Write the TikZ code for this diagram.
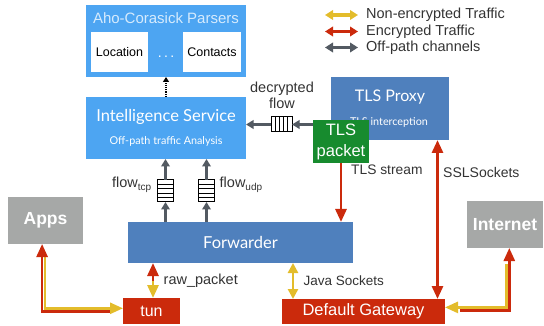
\documentclass[tikz,border=0pt]{standalone}
\usepackage{fontspec}
\setmainfont{Liberation Sans}
\newfontfamily\humanist{Lato}
\usetikzlibrary{arrows.meta,calc}

\definecolor{skyblue}{HTML}{4DA5F2}
\definecolor{steelblue}{HTML}{4F80BD}
\definecolor{encred}{HTML}{CB2A0C}
\definecolor{plainyel}{HTML}{E3BC2B}
\definecolor{offgrey}{HTML}{535A62}
\definecolor{boxgrey}{HTML}{A6A8A7}
\definecolor{pktgreen}{HTML}{178B2E}
\definecolor{labelgrey}{HTML}{333333}
\definecolor{titletint}{HTML}{D6EBFD}

\newcommand{\fs}[1]{\fontsize{#1}{#1}\selectfont}
\newcommand{\fsb}[2]{\fontsize{#1}{#2}\selectfont}

\tikzset{
  blk/.style={inner sep=0pt, outer sep=0pt, draw=none, align=center},
  queue/.style={blk, draw=black, line width=1pt, fill=white},
  lbl/.style={inner sep=0pt, text=labelgrey, font=\fs{14.5}},
  offpath/.style={draw=offgrey, line width=2.6pt,
    -{Triangle[length=7.5pt,width=8.5pt]}},
  encarrow/.style={draw=encred, line width=2.8pt,
    -{Triangle[length=13pt,width=11pt]}},
  encboth/.style={draw=encred, line width=2.8pt,
    {Triangle[length=13pt,width=11pt]}-{Triangle[length=13pt,width=11pt]}},
  plainarrow/.style={draw=plainyel, line width=2.8pt,
    -{Triangle[length=13pt,width=11pt]}},
  plainboth/.style={draw=plainyel, line width=2.8pt,
    {Triangle[length=10pt,width=10pt]}-{Triangle[length=10pt,width=10pt]}},
  legarrow/.style={line width=3.2pt,
    {Triangle[length=8pt,width=9.5pt]}-{Triangle[length=8pt,width=9.5pt]}},
}

\begin{document}
\begin{tikzpicture}[x=1pt, y=-1pt]
\useasboundingbox (0,0) rectangle (544,326);

% ---- parsers block ----
\node[blk, fill=skyblue, minimum width=160pt, minimum height=72pt] (aho) at (166,41) {};
\node[blk, text=titletint, font=\fs{15}] (ahotitle) at (166,18) {Aho-Corasick Parsers};
\node[blk, fill=white, minimum width=57pt, minimum height=40pt, font=\fs{12.5}] (loc) at (119.5,52) {Location};
\node[blk, fill=white, minimum width=58pt, minimum height=40pt, font=\fs{12.5}] (con) at (212,52) {Contacts};
\node[blk, text=white, font=\fs{14}] (dots) at (166,57) {.\,.\,.};

% ---- intelligence service ----
\node[blk, fill=skyblue, minimum width=160pt, minimum height=62pt] (intel) at (166,128) {};
\node[blk, text=white, font=\humanist\fs{16.5}] (inteltitle) at (166,117) {Intelligence Service};
\node[blk, text=white, font=\humanist\fs{10.8}] (intelsub) at (166,141) {Off-path traffic Analysis};

% ---- TLS proxy ----
\node[blk, fill=steelblue, minimum width=118pt, minimum height=63pt] (proxy) at (390,108.5) {};
\node[blk, text=white, font=\humanist\fs{16}] (proxytitle) at (390,97.5) {TLS Proxy};
\node[blk, text=white, font=\humanist\fs{10.8}] (proxysub) at (389,122) {TLS interception};

% ---- TLS packet ----
\node[blk, fill=pktgreen, text=white, minimum width=56pt, minimum height=43pt,
      font=\fsb{16.5}{21}] (pkt) at (341,141.5) {TLS\\packet};

% ---- forwarder ----
\node[blk, fill=steelblue, text=white, minimum width=225pt, minimum height=41pt,
      font=\humanist\fs{16.5}] (fwd) at (240.5,242.5) {Forwarder};

% ---- end points ----
\node[blk, fill=boxgrey, text=white, minimum width=75pt, minimum height=47pt,
      font=\bfseries\fs{17.5}] (apps) at (45.5,220.5) {Apps};
\node[blk, fill=boxgrey, text=white, minimum width=76pt, minimum height=47pt,
      font=\bfseries\fs{17.5}] (inet) at (505,224.5) {Internet};
\node[blk, fill=encred, text=white, minimum width=57pt, minimum height=26pt,
      font=\fs{16}] (tun) at (151.5,311) {tun};
\node[blk, fill=encred, text=white, minimum width=163pt, minimum height=25pt,
      font=\fs{16.5}] (gw) at (363.5,311.5) {Default Gateway};

% ---- queues ----
\node[queue, minimum width=16pt, minimum height=22pt] (qtcp) at (165.5,191) {};
\node[queue, minimum width=16pt, minimum height=22pt] (qudp) at (206.5,191) {};
\foreach \q in {qtcp,qudp}
  \foreach \k in {1,2,3,4}
    \draw[line width=0.9pt] ($(\q.north west)!\k/5!(\q.south west)$) -- ($(\q.north east)!\k/5!(\q.south east)$);
\node[queue, minimum width=21pt, minimum height=15pt] (qdec) at (281.5,124.5) {};
\foreach \k in {1,2,3,4}
  \draw[line width=0.9pt] ($(qdec.north west)!\k/5!(qdec.north east)$) -- ($(qdec.south west)!\k/5!(qdec.south east)$);

% ---- off-path channels ----
\draw[offpath] (qtcp.south |- fwd.north) -- (qtcp.south);
\draw[offpath] (qtcp.north) -- (qtcp.north |- intel.south);
\draw[offpath] (qudp.south |- fwd.north) -- (qudp.south);
\draw[offpath] (qudp.north) -- (qudp.north |- intel.south);
\draw[offpath] (pkt.west |- qdec.east) -- (qdec.east);
\draw[offpath] (qdec.west) -- (qdec.west -| intel.east);
\draw[densely dotted, line width=1.2pt, -{Triangle[length=5pt,width=6pt]}]
  (intel.north) -- (aho.south);

% ---- encrypted / plain traffic ----
\draw[encarrow] (pkt.south) -- (pkt.south |- fwd.north);
\coordinate (sslx) at (437.5,0);
\draw[encboth] (proxy.south -| sslx) -- (gw.north -| sslx);

\coordinate (rawmid) at (153,281);
\draw[encarrow] (rawmid) -- (rawmid |- fwd.south);
\draw[plainarrow] (rawmid) -- (rawmid |- tun.north);

\coordinate (javx) at (293,0);
\draw[plainboth] (fwd.south -| javx) -- (gw.north -| javx);

% apps <-> tun (two-tone link)
\coordinate (ay) at (44.8,308.3);
\coordinate (ar) at (42.1,311.2);
\draw[plainarrow, line width=2.6pt] (ay |- 0,256) -- (ay) -- (ay -| tun.west);
\draw[encarrow, line width=2.6pt] (110,311.2) -- (ar) -- (ar |- apps.south);

% internet <-> gateway (two-tone link)
\coordinate (iy) at (506.6,307.4);
\coordinate (ir) at (509.3,310.2);
\draw[plainarrow, line width=2.6pt] (iy |- 0,264) -- (iy) -- (iy -| gw.east);
\draw[encarrow, line width=2.6pt] (460,310.2) -- (ir) -- (ir |- inet.south);

% ---- labels ----
\node[lbl, align=center, font=\fsb{14.5}{15.5}] (declbl) at (282,95.5) {decrypted\\flow};
\node[lbl, anchor=east] (tcplbl) at (151.5,185) {flow\raisebox{-2.5pt}{\fs{10}tcp}};
\node[lbl, anchor=west] (udplbl) at (219.5,185) {flow\raisebox{-2.5pt}{\fs{10}udp}};
\node[lbl, anchor=west, font=\fs{13.8}] (tlslbl) at (351,170) {TLS stream};
\node[lbl, anchor=west, font=\fs{14}] (ssllbl) at (443,172) {SSLSockets};
\node[lbl, anchor=west] (rawlbl) at (163.5,281) {raw\_packet};
\node[lbl, anchor=west, font=\fs{13.5}] (javlbl) at (303.5,281) {Java Sockets};

% ---- legend ----
\node[lbl, anchor=west] (leg1) at (366,15) {Non-encrypted Traffic};
\node[lbl, anchor=west] (leg2) at (366,31.5) {Encrypted Traffic};
\node[lbl, anchor=west] (leg3) at (366,47.5) {Off-path channels};
\draw[legarrow, draw=plainyel] ([xshift=-41pt]leg1.west) -- ([xshift=-8pt]leg1.west);
\draw[legarrow, draw=encred] ([xshift=-41pt]leg2.west) -- ([xshift=-8pt]leg2.west);
\draw[legarrow, draw=offgrey] ([xshift=-41pt]leg3.west) -- ([xshift=-8pt]leg3.west);
\end{tikzpicture}
\end{document}
